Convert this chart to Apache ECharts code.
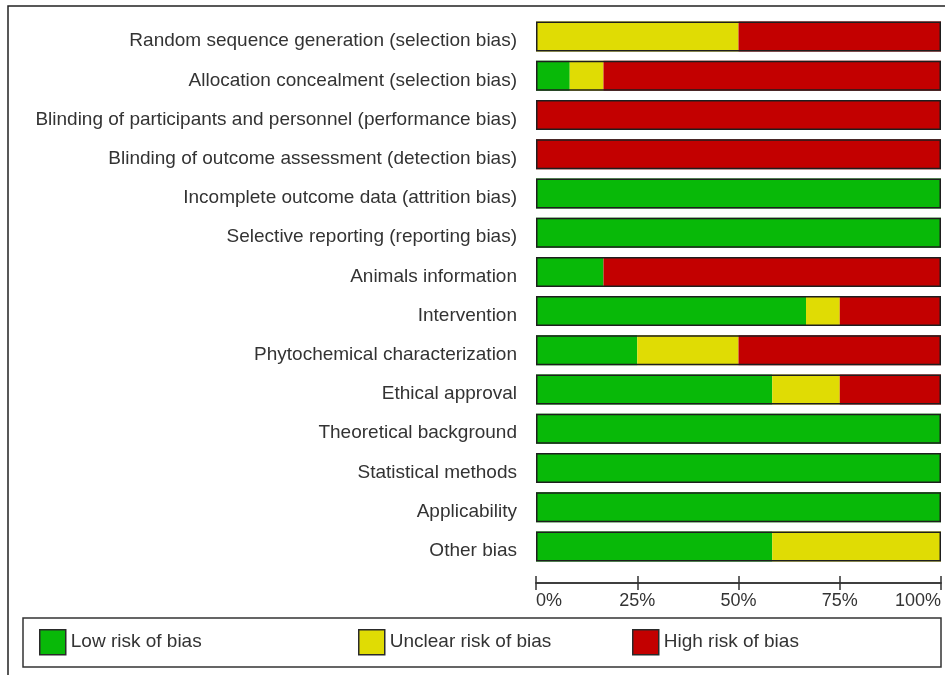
<!DOCTYPE html>
<html>
<head>
<meta charset="utf-8">
<script src="https://cdn.jsdelivr.net/npm/echarts@6/dist/echarts.min.js"></script>
<style>html,body{margin:0;padding:0;background:#fff}#c{width:945px;height:675px}</style>
</head>
<body>
<div id="c"></div>
<script>
const categories = [
  'Random sequence generation (selection bias)',
  'Allocation concealment (selection bias)',
  'Blinding of participants and personnel (performance bias)',
  'Blinding of outcome assessment (detection bias)',
  'Incomplete outcome data (attrition bias)',
  'Selective reporting (reporting bias)',
  'Animals information',
  'Intervention',
  'Phytochemical characterization',
  'Ethical approval',
  'Theoretical background',
  'Statistical methods',
  'Applicability',
  'Other bias'
];
const lowRisk     = [0, 8.33, 0, 0, 100, 100, 16.67, 66.67, 25, 58.33, 100, 100, 100, 58.33];
const unclearRisk = [50, 8.33, 0, 0, 0, 0, 0, 8.33, 25, 16.67, 0, 0, 0, 41.67];
const highRisk    = [50, 83.34, 100, 100, 0, 0, 83.33, 25, 50, 25, 0, 0, 0, 0];
const xTicks = ['0%', '25%', '50%', '75%', '100%'];
const seriesNames = ['Low risk of bias', 'Unclear risk of bias', 'High risk of bias'];
const colors = ['#08b908', '#e0dc04', '#c30000'];

const totals = categories.map((_, i) => lowRisk[i] + unclearRisk[i] + highRisk[i]);
const FONT = '"Liberation Sans", Arial, sans-serif';

const chart = echarts.init(document.getElementById('c'), null, {renderer: 'canvas'});
const mkBar = (name, data, color) => ({
  name, type: 'bar', stack: 'risk', data, barWidth: 30, barGap: '-100%',
  itemStyle: {color}, emphasis: {disabled: true}, z: 2
});
const legendBase = (name, left) => ({
  data: [name], left, top: 629, itemWidth: 26, itemHeight: 25, icon: 'rect',
  selectedMode: false, padding: 0,
  itemStyle: {borderColor: '#2a2a2a', borderWidth: 1.5},
  textStyle: {fontFamily: FONT, fontSize: 19, color: '#333'}
});

chart.setOption({
  backgroundColor: '#fff',
  animation: false,
  color: colors,
  grid: {left: 536, right: 4, top: 17, bottom: 675 - 566, containLabel: false},
  xAxis: [{
    type: 'value', min: 0, max: 100, interval: 25, offset: 17,
    axisLine: {show: true, lineStyle: {color: '#333', width: 1.5}},
    axisTick: {show: true, length: 7, lineStyle: {color: '#333', width: 1.5}},
    splitLine: {show: false},
    axisLabel: {
      margin: 9, fontFamily: FONT, fontSize: 18, color: '#333',
      alignMinLabel: 'left', alignMaxLabel: 'right',
      formatter: (v) => xTicks[Math.round(v / 25)]
    }
  }, {
    type: 'value', min: 0, max: 100, interval: 25, offset: 17, position: 'bottom',
    axisLine: {show: true, lineStyle: {color: '#333', width: 1.5}},
    axisTick: {show: true, inside: true, length: 7, lineStyle: {color: '#333', width: 1.5}},
    splitLine: {show: false}, axisLabel: {show: false}
  }],
  yAxis: {
    type: 'category', data: categories, inverse: true,
    axisLine: {show: false}, axisTick: {show: false}, splitLine: {show: false},
    axisLabel: {margin: 19, fontFamily: FONT, fontSize: 19, color: '#333', verticalAlign: 'top', lineHeight: 9}
  },
  legend: [
    legendBase(seriesNames[0], 39),
    legendBase(seriesNames[1], 358),
    legendBase(seriesNames[2], 632)
  ],
  series: [
    mkBar(seriesNames[0], lowRisk, colors[0]),
    mkBar(seriesNames[1], unclearRisk, colors[1]),
    mkBar(seriesNames[2], highRisk, colors[2]),
    {
      name: 'outline', type: 'bar', data: totals, barWidth: 30, barGap: '-100%',
      itemStyle: {color: 'rgba(0,0,0,0)', borderColor: '#1e1e1e', borderWidth: 1.5},
      silent: true, z: 3, emphasis: {disabled: true}
    }
  ],
  graphic: [
    {type: 'rect', shape: {x: 8, y: 6, width: 960, height: 700}, style: {fill: 'none', stroke: '#222', lineWidth: 1.5}, silent: true, z: -1},
    {type: 'rect', shape: {x: 23, y: 618, width: 918, height: 49}, style: {fill: 'none', stroke: '#333', lineWidth: 1.5}, silent: true}
  ]
});
</script>
</body>
</html>
